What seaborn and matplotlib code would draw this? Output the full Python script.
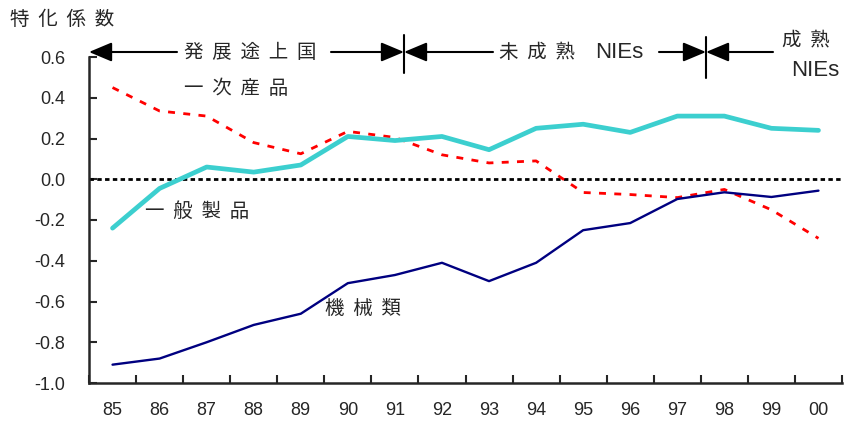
import matplotlib
matplotlib.use("Agg")
import matplotlib.pyplot as plt
import seaborn as sns
import pandas as pd
import numpy as np
from matplotlib.ticker import FixedLocator

years = ["85", "86", "87", "88", "89", "90", "91", "92",
         "93", "94", "95", "96", "97", "98", "99", "00"]
general = [-0.24, -0.045, 0.06, 0.035, 0.07, 0.21, 0.19, 0.21,
           0.145, 0.25, 0.27, 0.23, 0.31, 0.31, 0.25, 0.24]
primary = [0.45, 0.335, 0.31, 0.18, 0.125, 0.235, 0.205, 0.12,
           0.08, 0.09, -0.065, -0.075, -0.09, -0.05, -0.15, -0.29]
machinery = [-0.91, -0.88, -0.80, -0.715, -0.66, -0.51, -0.47, -0.41,
             -0.50, -0.41, -0.25, -0.215, -0.097, -0.064, -0.087, -0.056]
yticks = [0.6, 0.4, 0.2, 0.0, -0.2, -0.4, -0.6, -0.8, -1.0]
ytick_labels = ["0.6", "0.4", "0.2", "0.0", "-0.2", "-0.4", "-0.6", "-0.8", "-1.0"]

sns.set_style("ticks")
plt.rcParams["font.family"] = ["Liberation Sans", "Noto Sans CJK JP", "DejaVu Sans"]
CJK = ["Noto Sans CJK JP", "DejaVu Sans"]
LAT = ["Liberation Sans", "DejaVu Sans"]

pos = np.arange(len(years))
df = pd.DataFrame({"pos": pos, "general": general,
                   "primary": primary, "machinery": machinery})

W, H = 844, 421
fig = plt.figure(figsize=(W / 100, H / 100), dpi=100)
ax = fig.add_axes([89 / W, 1 - 383 / H, (842 - 89) / W, (383 - 57) / H])

ax.axhline(0, color="black", lw=2, linestyle=(0, (1.6, 1.2)), zorder=1)
sns.lineplot(data=df, x="pos", y="primary", ax=ax, color="#ff0000",
             lw=2.0, linestyle=(0, (2.5, 3.0)), zorder=2)
sns.lineplot(data=df, x="pos", y="general", ax=ax, color="#3ccfcf",
             lw=3.4, zorder=3)
sns.lineplot(data=df, x="pos", y="machinery", ax=ax, color="#000080",
             lw=1.7, zorder=4)

ax.set_xlim(-0.5, len(years) - 0.5)
ax.set_ylim(-1.0, 0.6)
ax.set_xlabel("")
ax.set_ylabel("")
sns.despine(ax=ax)
for s in ("left", "bottom"):
    ax.spines[s].set_linewidth(1.8)

ax.set_xticks(pos)
ax.set_xticklabels(years, fontsize=13)
ax.xaxis.set_minor_locator(FixedLocator(np.arange(-0.5, len(years), 1.0)))
ax.tick_params(axis="x", which="major", length=0, pad=14)
ax.tick_params(axis="x", which="minor", direction="in", length=5.5, width=1.5)
ax.set_yticks(yticks)
ax.set_yticklabels(ytick_labels, fontsize=13)
ax.tick_params(axis="y", direction="in", length=6, width=1.5, pad=17)


def P(px, py):
    return (px, H - py)


def arrow(x0, x1, y=52):
    ax.annotate("", xy=P(x1, y), xytext=P(x0, y), xycoords="figure pixels",
                textcoords="figure pixels", annotation_clip=False,
                arrowprops=dict(arrowstyle="-|>,head_length=1.0,head_width=0.42",
                                mutation_scale=14, lw=1.5, color="black",
                                shrinkA=0, shrinkB=0))


def bar(x, y0, y1):
    ax.annotate("", xy=P(x, y1), xytext=P(x, y0), xycoords="figure pixels",
                textcoords="figure pixels", annotation_clip=False,
                arrowprops=dict(arrowstyle="-", lw=1.5, color="black",
                                shrinkA=0, shrinkB=0))


arrow(177, 89)
arrow(331, 404)
arrow(493, 404)
arrow(659, 706)
arrow(773, 706)
bar(404, 35, 73)
bar(706, 37, 78)


def label(text, px, py, ha="center", size=14, family=CJK):
    fig.text(px / W, 1 - py / H, text, ha=ha, va="center",
             fontsize=size, family=family)


label("特  化  係  数", 10, 19, ha="left")
label("発  展  途  上  国", 250, 52)
label("未  成  熟", 537, 52)
label("NIEs", 619, 53, size=16, family=LAT)
label("一  次  産  品", 236, 88)
label("一  般  製  品", 197, 211)
label("機  械  類", 363, 308)
label("成  熟", 806, 40)
label("NIEs", 815, 71, size=16, family=LAT)

fig.savefig("out.png", dpi=100)
